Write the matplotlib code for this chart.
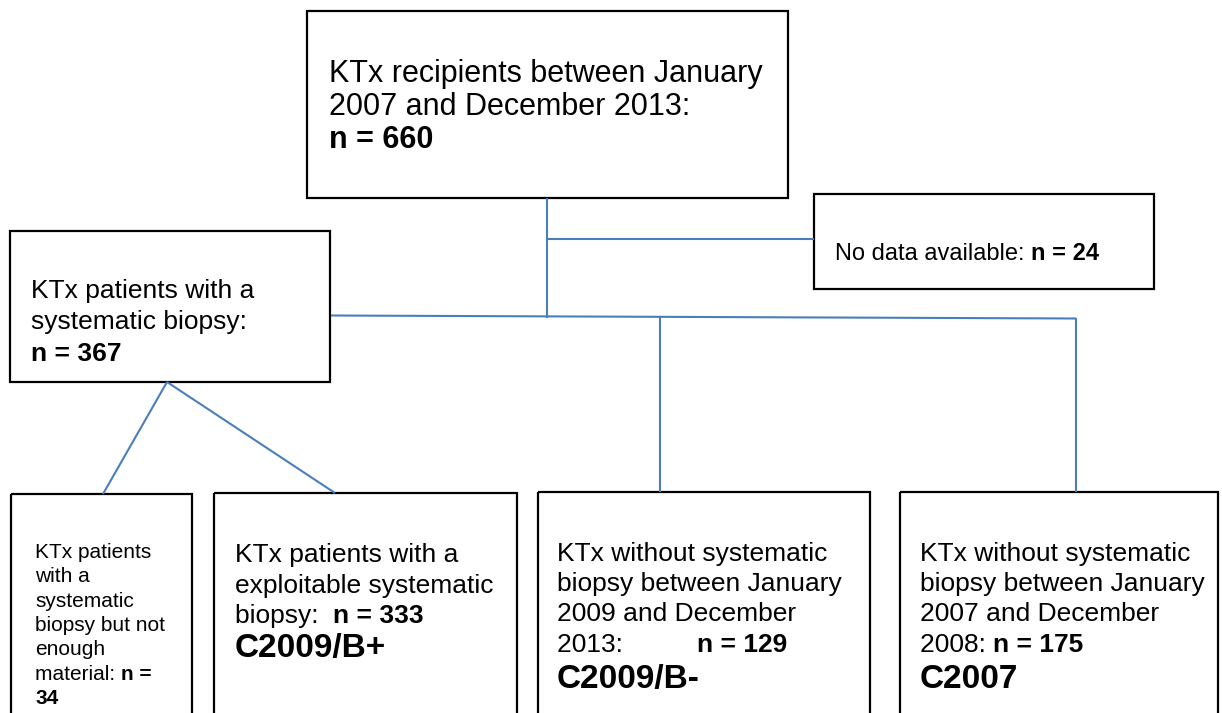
import matplotlib
matplotlib.use("Agg")
import matplotlib.pyplot as plt
from matplotlib.patches import Rectangle

plt.rcParams['font.family'] = ['Liberation Sans', 'DejaVu Sans']

# ---- data ----
counts = {"total": 660, "no_data": 24, "biopsy": 367, "not_enough": 34,
          "exploitable": 333, "c2009_bminus": 129, "c2007": 175}
cohort_labels = ["C2009/B+", "C2009/B-", "C2007"]

BLUE = "#4a7ebb"
W, H = 1222, 713
fig = plt.figure(figsize=(W / 100, H / 100), dpi=100)
ax = fig.add_axes([0, 0, 1, 1])
ax.set_xlim(0, W)
ax.set_ylim(H, 0)
ax.axis("off")


def box(x0, y0, x1, y1):
    ax.add_patch(Rectangle((x0, y0), x1 - x0, y1 - y0, fill=False,
                           edgecolor="black", linewidth=1.6, clip_on=True))


def line(xs, ys):
    ax.plot(xs, ys, color=BLUE, linewidth=1.5, solid_capstyle="butt")


def txt(x, y, parts, size):
    """parts: list of (string, bold) drawn one after another on a baseline."""
    prev = None
    for s, b in parts:
        w = "bold" if b else "normal"
        if prev is None:
            prev = ax.text(x, y, s, fontsize=size, fontweight=w,
                           va="baseline", ha="left")
        else:
            prev = ax.annotate(s, xy=(1, y), xycoords=(prev, "data"),
                               fontsize=size, fontweight=w,
                               va="baseline", ha="left")


# ---- boxes ----
box(307, 11, 788, 198)          # top
box(814, 194, 1154, 289)        # no data
box(10, 231, 330, 382)          # biopsy
box(11, 494, 192, 760)          # not enough material
box(214, 493, 517, 760)         # exploitable
box(538, 492, 870, 760)         # C2009/B-
box(900, 492, 1218, 760)        # C2007

# ---- connectors ----
line([547, 547], [198, 318])
line([547, 814], [239, 239])
line([331, 1076], [315.5, 318.5])
line([660, 660], [316.5, 492])
line([1076, 1076], [318, 492])
line([167, 103], [382, 494])
line([167, 335], [382, 493])

# ---- texts ----
fs_top = 22
txt(329, 82, [("KTx recipients between January", False)], fs_top)
txt(329, 115, [("2007 and December 2013:", False)], fs_top)
txt(329, 148, [(f"n = {counts['total']}", True)], fs_top)

txt(835, 260, [("No data available: ", False), (f"n = {counts['no_data']}", True)], 17)

fs_l = 19
txt(31, 298, [("KTx patients with a", False)], fs_l)
txt(31, 329, [("systematic biopsy:", False)], fs_l)
txt(31, 361, [(f"n = {counts['biopsy']}", True)], fs_l)

fs_s = 15
small_lines = ["KTx patients", "with a", "systematic", "biopsy but not", "enough"]
for i, s in enumerate(small_lines):
    txt(35, 558 + 24.3 * i, [(s, False)], fs_s)
txt(35, 679.5, [("material: ", False), ("n =", True)], fs_s)
txt(35, 704, [(f"{counts['not_enough']}", True)], fs_s)

fs_b = 19
fs_c = 24
txt(235, 562, [("KTx patients with a", False)], fs_b)
txt(235, 593, [("exploitable systematic", False)], fs_b)
txt(235, 623, [("biopsy:  ", False), (f"n = {counts['exploitable']}", True)], fs_b)
txt(235, 657, [(cohort_labels[0], True)], fs_c)

txt(557, 561, [("KTx without systematic", False)], fs_b)
txt(557, 591, [("biopsy between January", False)], fs_b)
txt(557, 621, [("2009 and December", False)], fs_b)
txt(557, 652, [("2013:          ", False), (f"n = {counts['c2009_bminus']}", True)], fs_b)
txt(557, 688, [(cohort_labels[1], True)], fs_c)

txt(920, 561, [("KTx without systematic", False)], fs_b)
txt(920, 591, [("biopsy between January", False)], fs_b)
txt(920, 621, [("2007 and December", False)], fs_b)
txt(920, 652, [("2008: ", False), (f"n = {counts['c2007']}", True)], fs_b)
txt(920, 688, [(cohort_labels[2], True)], fs_c)

fig.savefig("out.png", dpi=100)
